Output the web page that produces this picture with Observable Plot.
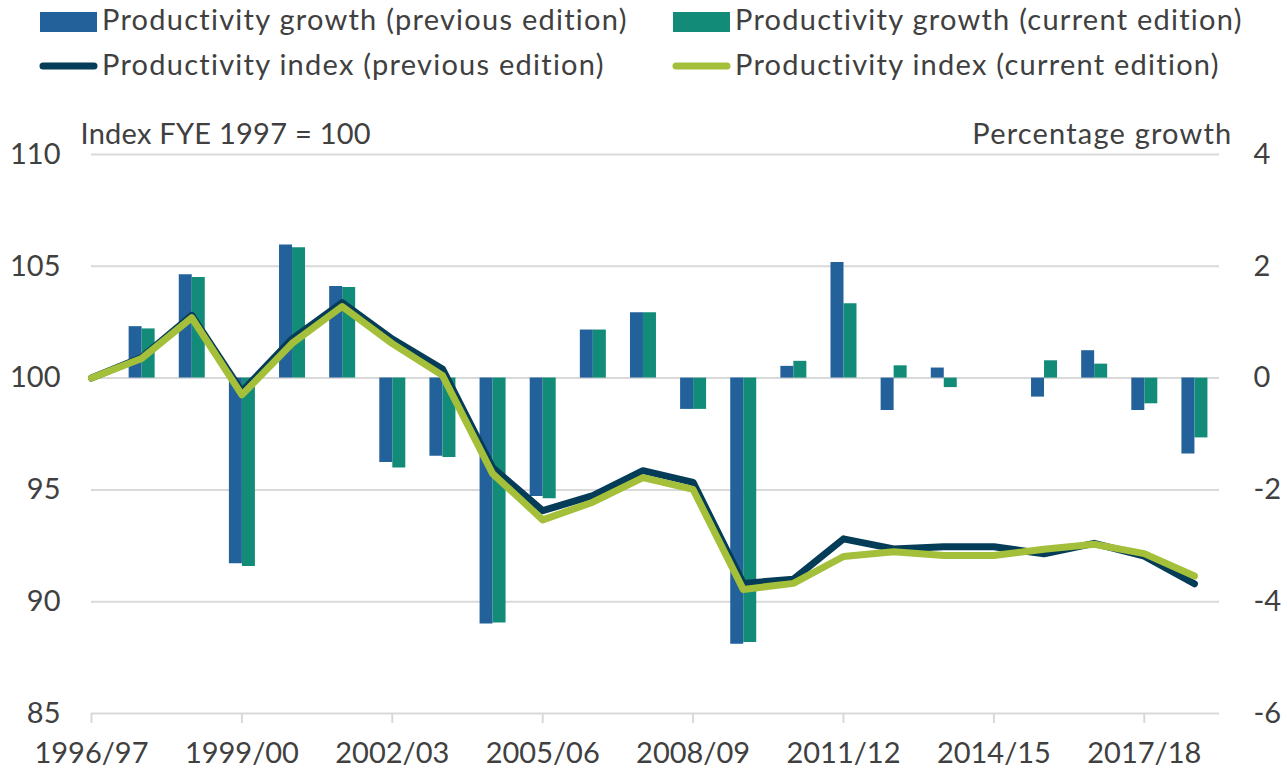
<!DOCTYPE html>
<html>
<head>
<meta charset="utf-8">
<script src="https://cdn.jsdelivr.net/npm/d3@7"></script>
<script src="https://cdn.jsdelivr.net/npm/@observablehq/plot@0.6"></script>
<style>
  body { margin: 0; background: #fff; font-family: Lato, sans-serif; }
  #legend, #chart { display: block; }
</style>
</head>
<body>
<div id="legend"></div>
<div id="chart"></div>
<script>
// ---- Data ----
const years = ["1996/97","1997/98","1998/99","1999/00","2000/01","2001/02","2002/03","2003/04",
  "2004/05","2005/06","2006/07","2007/08","2008/09","2009/10","2010/11","2011/12","2012/13",
  "2013/14","2014/15","2015/16","2016/17","2017/18","2018/19"];
const growthPrev = [null, 0.92, 1.85, -3.32, 2.38, 1.64, -1.51, -1.40, -4.40, -2.12, 0.86, 1.17,
  -0.56, -4.76, 0.21, 2.07, -0.58, 0.18, 0, -0.34, 0.49, -0.58, -1.36];
const growthCurr = [null, 0.88, 1.80, -3.37, 2.33, 1.62, -1.61, -1.42, -4.38, -2.16, 0.86, 1.17,
  -0.56, -4.73, 0.30, 1.33, 0.22, -0.17, 0, 0.31, 0.25, -0.46, -1.07];
const indexPrev = [100, 100.92, 102.8, 99.4, 101.75, 103.38, 101.75, 100.41, 96.0, 94.07, 94.74,
  95.86, 95.34, 90.82, 91.0, 92.81, 92.36, 92.46, 92.46, 92.14, 92.61, 92.04, 90.8];
const indexCurr = [100, 100.88, 102.7, 99.25, 101.55, 103.2, 101.54, 100.12, 95.73, 93.66, 94.45,
  95.55, 95.02, 90.55, 90.82, 92.02, 92.23, 92.07, 92.07, 92.35, 92.57, 92.15, 91.15];
const leftTicks = [85, 90, 95, 100, 105, 110];
const rightTicks = [-6, -4, -2, 0, 2, 4];
const xTickYears = ["1996/97","1999/00","2002/03","2005/06","2008/09","2011/12","2014/15","2017/18"];
const seriesNames = ["Productivity growth (previous edition)", "Productivity growth (current edition)",
  "Productivity index (previous edition)", "Productivity index (current edition)"];
const leftTitle = "Index FYE 1997 = 100";
const rightTitle = "Percentage growth";

// ---- Styles ----
const C = { blue: "#23619a", teal: "#128c78", navy: "#053c58", green: "#a4bf3a", grid: "#d9d9d9", text: "#404040" };
const FONT = "Lato, sans-serif";
const FS = 29;

// growth (right axis) -> index (left axis): 4 -> 110, -6 -> 85
const g2i = g => 100 + g * 2.5;
const i2g = v => (v - 100) / 2.5;

const rows = years.map((y, i) => ({
  i, year: y,
  gp: growthPrev[i], gc: growthCurr[i],
  ip: indexPrev[i], ic: indexCurr[i]
}));
const barRows = rows.filter(d => d.gp != null);

// ---- Legend (above the chart) ----
const leg = d3.select("#legend").append("svg")
  .attr("width", 1288).attr("height", 100)
  .style("font-family", FONT).style("font-size", FS + "px").style("display", "block");
const legItems = [
  {name: seriesNames[0], color: C.blue, kind: "rect", x: 40},
  {name: seriesNames[1], color: C.teal, kind: "rect", x: 673},
  {name: seriesNames[2], color: C.navy, kind: "line", x: 40},
  {name: seriesNames[3], color: C.green, kind: "line", x: 673}
];
legItems.forEach(it => {
  const g = leg.append("g");
  if (it.kind === "rect") {
    g.append("rect").attr("x", it.x).attr("y", 12).attr("width", 57).attr("height", 20).attr("fill", it.color);
    g.append("text").attr("x", it.x + 62).attr("y", 30).attr("fill", C.text)
      .attr("letter-spacing", "1.25px").text(it.name);
  } else {
    g.append("line").attr("x1", it.x + 3).attr("x2", it.x + 54).attr("y1", 66).attr("y2", 66)
      .attr("stroke", it.color).attr("stroke-width", 7).attr("stroke-linecap", "round");
    g.append("text").attr("x", it.x + 62).attr("y", 75).attr("fill", C.text)
      .attr("letter-spacing", "1.25px").text(it.name);
  }
});

// ---- Chart ----
const chart = Plot.plot({
  width: 1288,
  height: 673,
  marginTop: 54,
  marginBottom: 60,
  marginLeft: 91,
  marginRight: 69,
  style: { fontFamily: FONT, fontSize: FS + "px", color: C.text, background: "#fff" },
  x: { type: "linear", domain: [0, 22.5], axis: null, label: null },
  y: { domain: [85, 110], axis: null, label: null },
  marks: [
    Plot.ruleY(leftTicks.slice(1), { stroke: C.grid, strokeWidth: 2 }),
    Plot.ruleX(barRows, { x: "i", y1: () => 100, y2: d => g2i(d.gp), stroke: C.blue, strokeWidth: 13, dx: -6.5 }),
    Plot.ruleX(barRows, { x: "i", y1: () => 100, y2: d => g2i(d.gc), stroke: C.teal, strokeWidth: 13, dx: 6.5 }),
    Plot.line(rows, { x: "i", y: "ip", stroke: C.navy, strokeWidth: 7, strokeLinejoin: "round" }),
    Plot.line(rows, { x: "i", y: "ic", stroke: C.green, strokeWidth: 7, strokeLinejoin: "round" }),
    Plot.ruleY([leftTicks[0]], { stroke: C.grid, strokeWidth: 2 }),
    Plot.axisY({ anchor: "left", ticks: leftTicks, tickSize: 0, tickPadding: 31, fill: C.text,
      label: null, tickFormat: d => String(d) }),
    Plot.axisY({ anchor: "right", ticks: rightTicks.map(g2i), tickSize: 0, tickPadding: 34, fill: C.text,
      label: null, tickFormat: d => String(Math.round(i2g(d))) }),
    Plot.axisX({ ticks: xTickYears.map(y => years.indexOf(y)), tickFormat: i => years[i], label: null,
      tickSize: 10, tickPadding: 19, stroke: C.grid, strokeWidth: 2, fill: C.text }),
    Plot.text([leftTitle], { frameAnchor: "top-left", text: d => d, textAnchor: "start", lineAnchor: "bottom",
      dx: -11, dy: -11, fill: C.text, style: "letter-spacing:0.25px" }),
    Plot.text([rightTitle], { frameAnchor: "top-right", text: d => d, textAnchor: "end", lineAnchor: "bottom",
      dx: 13, dy: -11, fill: C.text })
  ]
});
d3.select(chart).selectAll("text").filter(function() { return this.textContent === rightTitle; })
  .attr("letter-spacing", "1.2px");
d3.select(chart).selectAll("text").filter(function() { return this.textContent === leftTitle; })
  .attr("letter-spacing", "0.25px");
document.getElementById("chart").appendChild(chart);
</script>
</body>
</html>
